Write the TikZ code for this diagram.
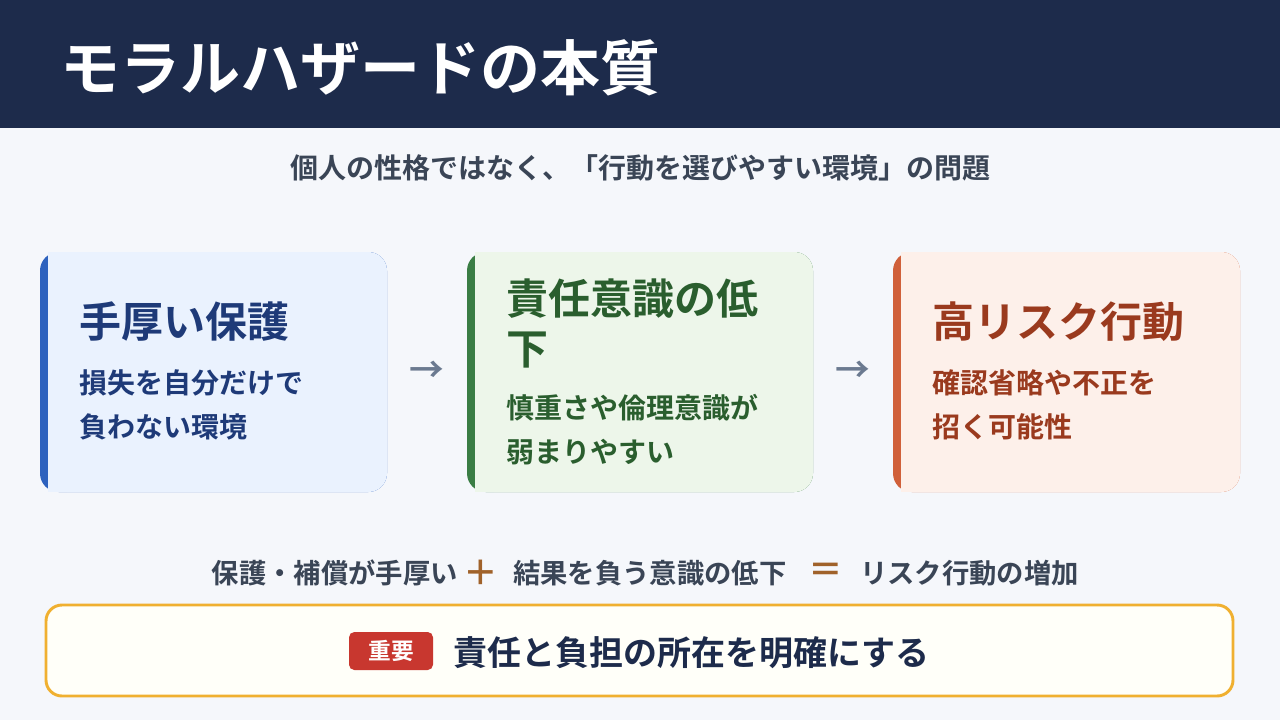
\documentclass[tikz,border=0pt]{standalone}
\usepackage{fontspec}
\setmainfont{Noto Sans CJK JP}[BoldFont={Noto Sans CJK JP Bold}]
\usetikzlibrary{positioning}
\definecolor{navy}{HTML}{1D2B4B}
\definecolor{bgc}{HTML}{F5F7FB}
\definecolor{subc}{HTML}{3A4556}
\definecolor{bluef}{HTML}{EAF2FE}\definecolor{blueb}{HTML}{2E62BE}\definecolor{bluet}{HTML}{1E3A78}
\definecolor{greenf}{HTML}{EDF6EA}\definecolor{greenb}{HTML}{3A7D44}\definecolor{greent}{HTML}{2A5E2E}
\definecolor{redf}{HTML}{FDF0EA}\definecolor{redb}{HTML}{D0603A}\definecolor{redt}{HTML}{9A3A1E}
\definecolor{arrc}{HTML}{6B7A90}
\definecolor{opc}{HTML}{A0622A}
\definecolor{gold}{HTML}{F0B030}
\definecolor{tagc}{HTML}{C8372F}
\tikzset{
  card/.style={rounded corners=14, inner sep=0},
  ctitle/.style={anchor=west, inner sep=0, font=\bfseries\fontsize{31.5}{37.5}\selectfont},
  cbody/.style={anchor=west, inner sep=0, align=left, font=\bfseries\fontsize{21}{33}\selectfont},
  flow/.style={font=\bfseries\fontsize{26}{26}\selectfont, text=arrc},
  eq/.style={inner sep=0, font=\bfseries\fontsize{20.5}{24}\selectfont, text=subc},
  op/.style={inner sep=0, text=opc, font=\bfseries\fontsize{26}{26}\selectfont},
}
\begin{document}
\begin{tikzpicture}[x=0.75pt,y=-0.75pt]
    \useasboundingbox (0,0) rectangle (1280,720);
    \fill[bgc] (0,0) rectangle (1280,720);
    \fill[navy] (0,0) rectangle (1280,128);
    \node[anchor=west, inner sep=0, text=white, font=\bfseries\fontsize{45}{48}\selectfont] (title) at (60,68) {モラルハザードの本質};
    \node[font=\bfseries\fontsize{21}{24}\selectfont, text=subc] (sub) at (640,168) {個人の性格ではなく、「行動を選びやすい環境」の問題};

    % three cards
    \fill[blueb,card] (40,252) rectangle (387,492);
    \fill[bluef,card] (48,252) rectangle (387,492);
    \fill[bluef] (48,252) rectangle (70,492);
    \node[ctitle, text=bluet] (t1) at (79,322) {手厚い保護};
    \node[cbody, text=bluet] (b1) at (79,405) {損失を自分だけで\\負わない環境};

    \fill[greenb,card] (467,252) rectangle (813,492);
    \fill[greenf,card] (475,252) rectangle (813,492);
    \fill[greenf] (475,252) rectangle (497,492);
    \node[ctitle, text=greent, align=left] (t2) at (506,323) {責任意識の低\\下};
    \node[cbody, text=greent] (b2) at (506,430) {慎重さや倫理意識が\\弱まりやすい};

    \fill[redb,card] (893,252) rectangle (1240,492);
    \fill[redf,card] (901,252) rectangle (1240,492);
    \fill[redf] (901,252) rectangle (923,492);
    \node[ctitle, text=redt] (t3) at (932,322) {高リスク行動};
    \node[cbody, text=redt] (b3) at (932,405) {確認省略や不正を\\招く可能性};

    \node[flow] (a1) at (427,372) {→};
    \node[flow] (a2) at (853,372) {→};

    % equation line
    \node[eq, anchor=east] (e1) at (458,573) {保護・補償が手厚い};
    \node[op] (plus) at (481,573) {＋};
    \node[eq, anchor=west] (e2) at (513,573) {結果を負う意識の低下};
    \node[op] (equal) at (826,573) {＝};
    \node[eq, anchor=west] (e3) at (860,573) {リスク行動の増加};

    % key point
    \draw[gold, line width=2.2pt, fill=white!70!yellow!8, rounded corners=12] (46,605) rectangle (1233,696);
    \fill[tagc, rounded corners=4] (349,632) rectangle (433,670);
    \node[text=white, font=\bfseries\fontsize{17}{20}\selectfont] (tag) at (391,651) {重要};
    \node[anchor=west, inner sep=0, text=navy, font=\bfseries\fontsize{25.5}{28}\selectfont] (key) at (453,653) {責任と負担の所在を明確にする};
\end{tikzpicture}
\end{document}
